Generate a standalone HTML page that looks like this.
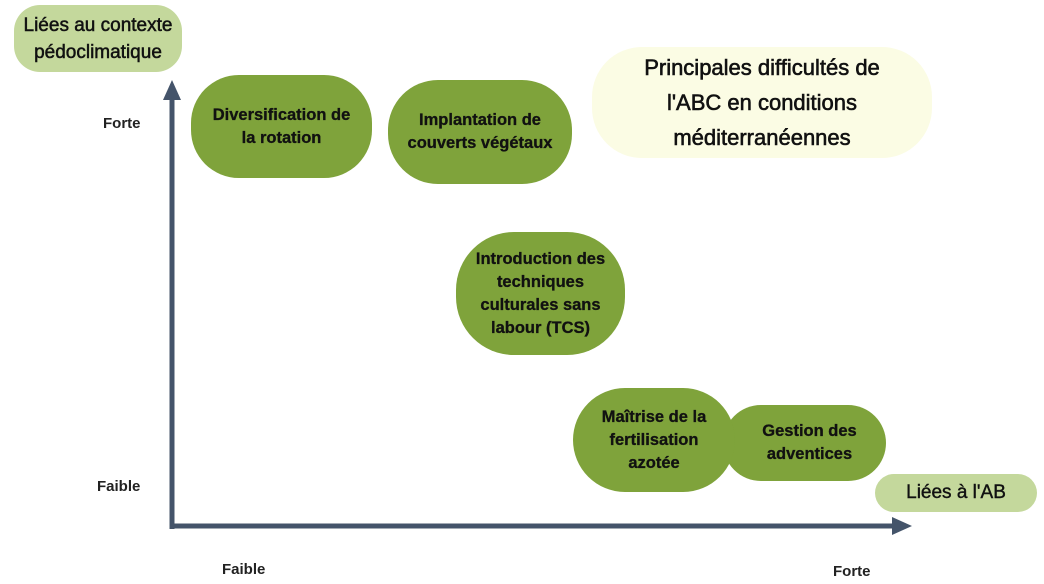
<!DOCTYPE html>
<html><head><style>
body{margin:0;width:1044px;height:584px;background:#fff;position:relative;overflow:hidden;font-family:"Liberation Sans","DejaVu Sans",sans-serif;}
.b{position:absolute;display:flex;align-items:center;justify-content:center;text-align:center;font-weight:bold;color:#111;}
.n{background:#7fa33b;font-size:16.5px;line-height:23px;-webkit-text-stroke:0.3px #111;}
.l{position:absolute;font-size:15px;font-weight:bold;color:#222;}
</style></head><body>
<div class="b" style="left:14px;top:5px;width:168px;height:67px;border-radius:26px;background:#c4d89c;font-size:19px;line-height:27px;font-weight:normal;-webkit-text-stroke:0.5px #111">Liées au contexte<br>pédoclimatique</div>
<div class="b" style="left:592px;top:47px;width:340px;height:111px;border-radius:50px;background:#fbfce4;font-size:22px;line-height:35px;font-weight:normal;-webkit-text-stroke:0.6px #111">Principales difficultés de<br>l'ABC en conditions<br>méditerranéennes</div>
<div class="b" style="left:875px;top:474px;width:162px;height:38px;border-radius:19px;background:#c4d89c;font-size:19px;font-weight:normal;-webkit-text-stroke:0.4px #111">Liées à l'AB</div>
<svg style="position:absolute;left:0;top:0" width="1044" height="584">
<line x1="172" y1="96" x2="172" y2="529" stroke="#44546a" stroke-width="5"/>
<polygon points="172,80 163,100 181,100" fill="#44546a"/>
<line x1="170" y1="526" x2="895" y2="526" stroke="#44546a" stroke-width="5"/>
<polygon points="912,526 892,517 892,535" fill="#44546a"/>
</svg>
<div class="b n" style="left:191px;top:75px;width:181px;height:103px;border-radius:48px">Diversification de<br>la rotation</div>
<div class="b n" style="left:388px;top:80px;width:184px;height:104px;border-radius:50px">Implantation de<br>couverts végétaux</div>
<div class="b n" style="left:456px;top:232px;width:169px;height:123px;border-radius:58px">Introduction des<br>techniques<br>culturales sans<br>labour (TCS)</div>
<div class="b n" style="left:723px;top:405px;width:163px;height:76px;border-radius:38px;padding-left:10px;box-sizing:border-box">Gestion des<br>adventices</div>
<div class="b n" style="left:573px;top:388px;width:162px;height:104px;border-radius:52px">Maîtrise de la<br>fertilisation<br>azotée</div>
<div class="l" style="left:103px;top:115px">Forte</div>
<div class="l" style="left:97px;top:478px">Faible</div>
<div class="l" style="left:222px;top:561px">Faible</div>
<div class="l" style="left:833px;top:563px">Forte</div>
</body></html>
